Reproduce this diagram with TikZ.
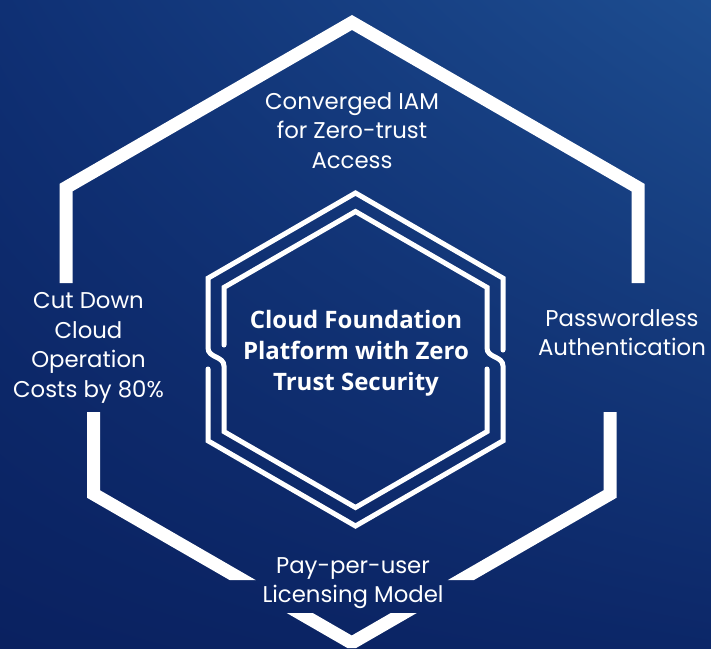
\documentclass[tikz,border=0pt]{standalone}
\usepackage{fontspec}
\usetikzlibrary{shadings}
\setmainfont{Poppins}
\newfontfamily\corefont{Open Sans}
\definecolor{bgUL}{RGB}{15,48,116}
\definecolor{bgUR}{RGB}{29,77,144}
\definecolor{bgLL}{RGB}{10,33,96}
\definecolor{bgLR}{RGB}{12,39,104}
\begin{document}
\begin{tikzpicture}[x=1pt,y=-1pt,
  outerline/.style={white, line width=13pt, line join=miter},
  innerline/.style={white, line width=5pt, line cap=round, line join=miter},
  txt/.style={text=white, align=center, inner sep=0pt, font=\fontsize{22.8}{29.5}\selectfont},
  coretxt/.style={text=white, align=center, inner sep=0pt, font=\corefont\bfseries\fontsize{24}{31}\selectfont}]
\useasboundingbox (0,0) rectangle (711,648);
\shade[upper left=bgUL, upper right=bgUR, lower left=bgLL, lower right=bgLR]
  (0,0) rectangle (711,648);
\begin{scope}
\clip (0,0) rectangle (711,648);
% outer hexagon, upper part
\draw[outerline] (66,283) -- (66,187.6) -- (352,22.5) -- (638,187.6) -- (638,283);
% outer hexagon, lower part
\begin{scope}
\clip (0,0) rectangle (711,580) (0,613) rectangle (711,648);
\draw[outerline] (93.5,412) -- (93.5,494) -- (351.75,643) -- (610,494) -- (610,412);
\end{scope}
% inner hexagon, two interlocking outlines
\draw[innerline] (503,350) -- (503,278.2) -- (355.5,193) -- (208,278.2) -- (208,348)
  .. controls (208,358) and (224,356) .. (224,366) -- (224,431.6) -- (355.5,507.5)
  -- (487,431.6) -- (487,369);
\draw[innerline] (224,345) -- (224,287.4) -- (355.5,211.5) -- (487,287.4) -- (487,348)
  .. controls (487,358) and (503,356) .. (503,366) -- (503,440.8) -- (355.5,526)
  -- (208,440.8) -- (208,369);
\end{scope}
\node[txt] (iam) at (352,130.5) {Converged IAM\\for Zero-trust\\Access};
\node[txt] (cost) at (88.5,348) {Cut Down\\Cloud\\Operation\\Costs by 80\%};
\node[txt] (pwd) at (622,332.5) {Passwordless\\Authentication};
\node[txt] (pay) at (353,583) {Pay-per-user\\Licensing Model};
\node[coretxt] (core) at (356,353) {Cloud Foundation\\Platform with Zero\\Trust Security};
\end{tikzpicture}
\end{document}
